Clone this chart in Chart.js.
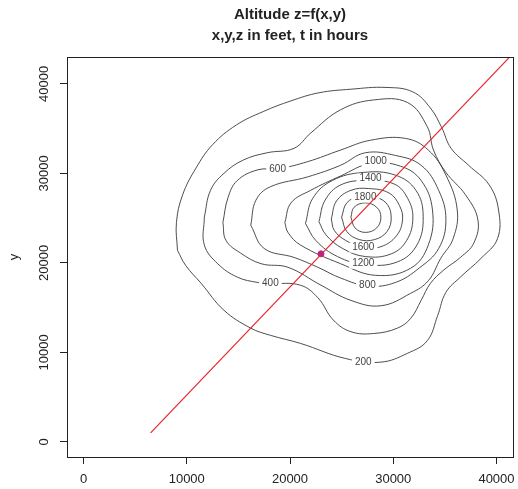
<!DOCTYPE html>
<html>
<head>
<meta charset="utf-8">
<script src="https://cdn.jsdelivr.net/npm/chart.js@4.4.1/dist/chart.umd.min.js"></script>
<style>
html, body { margin: 0; padding: 0; background: #fff; }
</style>
</head>
<body>
<canvas id="altChart" width="518" height="489"></canvas>
<script>
// axes
const xTicks = [0, 10000, 20000, 30000, 40000];
const yTicks = [0, 10000, 20000, 30000, 40000];

// contour lines, [x, y] in feet
const c200 = [[9100,21400],[9000,24500],[9600,27600],[10900,30600],[12500,33200],[14800,35400],[17400,36900],[20100,38100],[22800,39000],[25900,39400],[29300,39600],[31900,39100],[33600,37300],[34700,35100],[35600,32800],[37300,30900],[39300,28700],[40200,25900],[40100,22700],[38500,20500],[36500,18400],[35100,16700],[34300,14100],[33300,11300],[31400,9900],[28800,8900],[25400,9300],[21000,11000],[18100,11900],[16200,12700],[13600,14700],[11400,17700],[9900,19700]];
const c400 = [[11700,25100],[12300,28100],[13600,30000],[15500,31500],[17800,32300],[20400,32800],[22000,34500],[24900,37100],[28100,38200],[31400,37900],[33300,35200],[33900,32600],[35100,30100],[37000,27600],[38200,24800],[37800,22200],[36500,20600],[34900,19200],[33600,17700],[32700,15800],[31700,13800],[30400,12700],[28100,12100],[25900,12300],[24200,13600],[22700,16100],[21000,17500],[18100,17700],[16900,17800],[14900,18400],[13000,19900],[11700,22000]];
const c600 = [[13500,24500],[14000,27300],[14900,29200],[16900,30400],[18800,30500],[21700,31300],[24900,32600],[27800,33700],[31200,33900],[33400,32600],[35100,29800],[36200,25900],[35800,22700],[34600,20500],[33400,18000],[31700,16600],[28800,15200],[25900,15800],[23000,17500],[19800,19500],[17200,19900],[15200,21100],[13800,22500]];
const c800 = [[16200,24200],[16700,27000],[18100,28500],[21700,29600],[24900,30900],[27300,32300],[30200,32000],[32700,30900],[34400,28100],[35100,24800],[34400,21600],[32500,19400],[30200,17800],[27600,17400],[24900,18300],[22700,19500],[20400,20600],[17500,21600]];
const c1000 = [[19500,24500],[20100,26700],[22000,28100],[24900,29700],[27800,31100],[30700,30800],[32700,29200],[33800,25900],[33400,22000],[31700,19400],[28300,18600],[24900,19900],[21000,22000],[19800,23400]];
const c1200 = [[21500,24400],[22200,27200],[24100,29200],[27100,30100],[30200,29800],[32200,28100],[32900,25200],[32300,22000],[30400,20100],[27300,19800],[24600,20700],[22500,22500]];
const c1400 = [[22800,24600],[23400,27000],[24900,28700],[27400,29200],[30100,28800],[31400,27200],[31900,25000],[31300,22500],[29800,21000],[27300,20700],[25100,21600],[23500,23100]];
const c1600 = [[24000,24900],[24500,26900],[25900,28100],[27600,28300],[29600,27800],[30600,26400],[30900,24800],[30300,23000],[28800,21800],[27100,21700],[25400,22500],[24300,23600]];
const c1800 = [[25000,25100],[25500,26700],[26700,27400],[28000,27400],[29300,26700],[29800,25100],[29400,23500],[28200,22600],[26700,22600],[25500,23500]];
const c2000 = [[25900,25100],[26200,26200],[27300,26700],[28400,26200],[28800,25100],[28400,23900],[27300,23400],[26300,23900]];
const contours = [c200, c400, c600, c800, c1000, c1200, c1400, c1600, c1800, c2000];

// contour labels
const labelText = ['200', '400', '600', '800', '1000', '1200', '1400', '1600', '1800'];
const labelX = [27100, 18100, 18800, 27500, 28300, 27100, 27800, 27100, 27300];
const labelY = [8900, 17700, 30500, 17500, 31300, 19900, 29400, 21700, 27300];

// straight track and current position
const trackX = [6500, 41200];
const trackY = [1000, 42900];
const posX = [23000];
const posY = [21000];

const FONT = '"Liberation Sans", Arial, Helvetica, sans-serif';

const datasets = [
    {
        data: posX.map((x, i) => ({ x: x, y: posY[i] })),
        showLine: false,
        pointRadius: 3,
        pointBackgroundColor: '#c0227a',
        pointBorderColor: '#c0227a'
    },
    {
        data: trackX.map((x, i) => ({ x: x, y: trackY[i] })),
        showLine: true,
        borderColor: '#e8242a',
        borderWidth: 1.2,
        pointRadius: 0
    }
];
contours.forEach(c => {
    const pts = c.map(p => ({ x: p[0], y: p[1] }));
    pts.push(pts[0]);
    datasets.push({
        data: pts,
        showLine: true,
        borderColor: '#3a3a3a',
        borderWidth: 0.9,
        pointRadius: 0,
        tension: 0.4
    });
});

// box, tick labels, titles, contour labels
const framePlugin = {
    id: 'frame',
    beforeDatasetDraw(chart, args) {
        if (args.index !== 1) return;
        const ctx = chart.ctx, xs = chart.scales.x, ys = chart.scales.y;
        ctx.save();
        ctx.font = '10px ' + FONT;
        ctx.textAlign = 'center';
        ctx.textBaseline = 'middle';
        labelText.forEach((t, i) => {
            const px = xs.getPixelForValue(labelX[i]);
            const py = ys.getPixelForValue(labelY[i]);
            const w = ctx.measureText(t).width + 6;
            ctx.fillStyle = '#fff';
            ctx.fillRect(px - w / 2, py - 5, w, 10);
            ctx.fillStyle = '#444';
            ctx.fillText(t, px, py);
        });
        ctx.restore();
    },
    afterDraw(chart) {
        const ctx = chart.ctx, a = chart.chartArea;
        const xs = chart.scales.x, ys = chart.scales.y;
        ctx.save();
        ctx.strokeStyle = '#222';
        ctx.lineWidth = 1;
        ctx.strokeRect(a.left + 0.5, a.top + 0.5, a.right - a.left, a.bottom - a.top);

        ctx.fillStyle = '#222';
        ctx.font = '13px ' + FONT;
        ctx.textAlign = 'center';
        ctx.textBaseline = 'middle';
        xTicks.forEach(v => ctx.fillText(String(v), xs.getPixelForValue(v), 479));
        yTicks.forEach(v => {
            ctx.save();
            ctx.translate(44, ys.getPixelForValue(v));
            ctx.rotate(-Math.PI / 2);
            ctx.fillText(String(v), 0, 0);
            ctx.restore();
        });
        ctx.save();
        ctx.translate(14, (a.top + a.bottom) / 2);
        ctx.rotate(-Math.PI / 2);
        ctx.fillText('y', 0, 0);
        ctx.restore();

        ctx.font = 'bold 15px ' + FONT;
        const cx = (a.left + a.right) / 2;
        ctx.fillText('Altitude z=f(x,y)', cx, 15);
        ctx.fillText('x,y,z in feet, t in hours', cx, 36);
        ctx.restore();
    }
};

const axisGrid = {
    drawOnChartArea: false,
    drawTicks: true,
    tickLength: 7,
    color: '#222'
};

const ctx = document.getElementById('altChart').getContext('2d');
const altChart = new Chart(ctx, {
    type: 'scatter',
    data: { datasets: datasets },
    options: {
        responsive: false,
        animation: false,
        layout: { padding: { top: 57, right: 5, left: 0, bottom: 0 } },
        plugins: {
            legend: { display: false },
            tooltip: { enabled: false }
        },
        scales: {
            x: {
                type: 'linear',
                min: -1600,
                max: 41600,
                afterBuildTicks: s => { s.ticks = xTicks.map(v => ({ value: v })); },
                afterFit: s => { s.height = 32; },
                ticks: { display: false },
                grid: axisGrid,
                border: { display: false }
            },
            y: {
                type: 'linear',
                min: -1700,
                max: 43000,
                afterBuildTicks: s => { s.ticks = yTicks.map(v => ({ value: v })); },
                afterFit: s => { s.width = 67; },
                ticks: { display: false },
                grid: axisGrid,
                border: { display: false }
            }
        }
    },
    plugins: [framePlugin]
});
</script>
</body>
</html>
